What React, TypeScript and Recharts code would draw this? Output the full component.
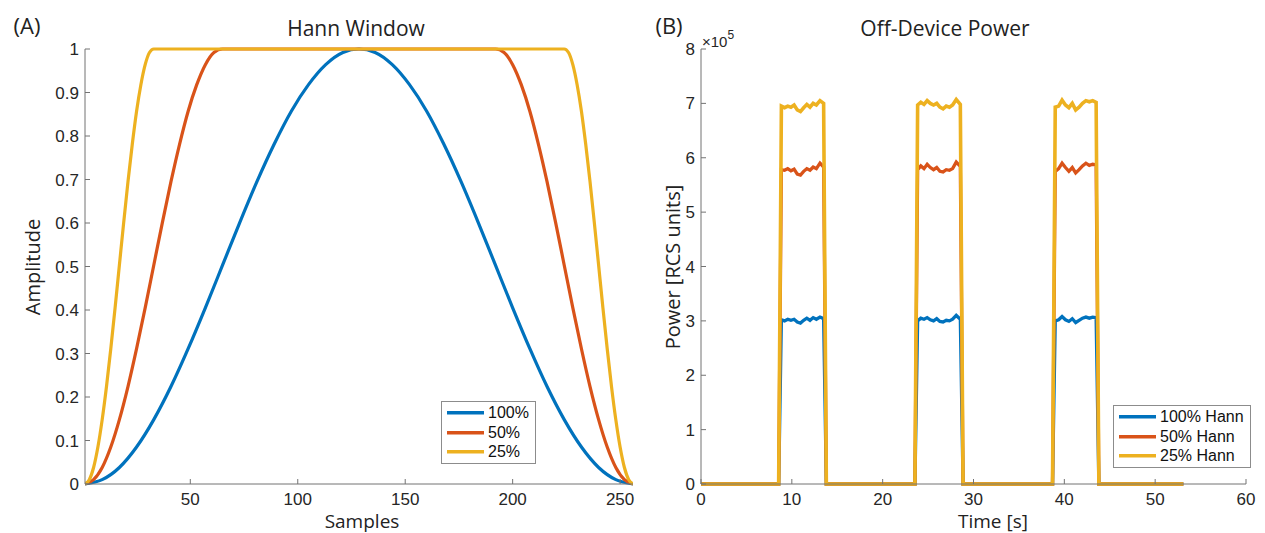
import React from 'react';
import { LineChart, Line, XAxis, YAxis, Legend } from 'recharts';

// ---------- Panel A: Hann / Tukey windows ----------
const hann100X = [1, 9, 17, 25, 33, 41, 49, 57, 65, 73, 81, 89, 97, 105, 113, 121, 128.5, 136, 144, 152, 160, 168, 176, 184, 192, 200, 208, 216, 224, 232, 240, 248, 256];
const hann100Y = [0, 0.010, 0.038, 0.085, 0.148, 0.224, 0.311, 0.405, 0.503, 0.601, 0.695, 0.781, 0.857, 0.918, 0.964, 0.992, 1, 0.992, 0.964, 0.918, 0.857, 0.781, 0.695, 0.601, 0.503, 0.405, 0.311, 0.224, 0.148, 0.085, 0.038, 0.010, 0];

const hann50X = [1, 5, 9, 13, 17, 21, 25, 29, 33, 37, 41, 45, 49, 53, 57, 61, 65, 192, 196, 200, 204, 208, 212, 216, 220, 224, 228, 232, 236, 240, 244, 248, 252, 256];
const hann50Y = [0, 0.010, 0.038, 0.085, 0.148, 0.224, 0.311, 0.405, 0.503, 0.601, 0.695, 0.781, 0.857, 0.918, 0.964, 0.992, 1, 1, 0.992, 0.964, 0.918, 0.857, 0.781, 0.695, 0.601, 0.503, 0.405, 0.311, 0.224, 0.148, 0.085, 0.038, 0.010, 0];

const hann25X = [1, 3, 5, 7, 9, 11, 13, 15, 17, 19, 21, 23, 25, 27, 29, 31, 33, 224, 226, 228, 230, 232, 234, 236, 238, 240, 242, 244, 246, 248, 250, 252, 254, 256];
const hann25Y = [0, 0.010, 0.038, 0.085, 0.148, 0.224, 0.311, 0.405, 0.503, 0.601, 0.695, 0.781, 0.857, 0.918, 0.964, 0.992, 1, 1, 0.992, 0.964, 0.918, 0.857, 0.781, 0.695, 0.601, 0.503, 0.405, 0.311, 0.224, 0.148, 0.085, 0.038, 0.010, 0];

const sampleTicks = [50, 100, 150, 200, 250];
const amplitudeTicks = [0, 0.1, 0.2, 0.3, 0.4, 0.5, 0.6, 0.7, 0.8, 0.9, 1];
const windowLabels = ['100%', '50%', '25%'];

// ---------- Panel B: Off-device power ----------
const timeS = [
  0, 2, 4, 6, 8.55,
  8.85, 9.2, 9.55, 9.9, 10.25, 10.6, 10.95, 11.3, 11.65, 12.0, 12.35, 12.7, 13.1, 13.5,
  13.8, 16, 18, 20, 22, 23.55,
  23.85, 24.2, 24.55, 24.9, 25.25, 25.6, 25.95, 26.3, 26.65, 27.0, 27.35, 27.7, 28.1, 28.55,
  28.85, 31, 33, 35, 37, 38.7,
  39.0, 39.375, 39.75, 40.125, 40.5, 40.875, 41.25, 41.625, 42.0, 42.375, 42.75, 43.125, 43.5,
  43.8, 46, 48, 50, 52, 53.1,
];
const power100 = [
  0, 0, 0, 0, 0,
  302000, 300000, 303000, 301000, 303000, 298000, 296000, 301000, 305000, 301000, 306000, 303000, 307000, 304000,
  0, 0, 0, 0, 0, 0,
  300000, 305000, 303000, 306000, 302000, 300000, 304000, 299000, 298000, 301000, 300000, 303000, 310000, 303000,
  0, 0, 0, 0, 0, 0,
  300000, 302000, 308000, 302000, 299000, 304000, 297000, 301000, 305000, 307000, 305000, 307000, 306000,
  0, 0, 0, 0, 0, 0,
];
const power50 = [
  0, 0, 0, 0, 0,
  578000, 577000, 580000, 576000, 579000, 570000, 568000, 575000, 580000, 577000, 583000, 580000, 590000, 583000,
  0, 0, 0, 0, 0, 0,
  578000, 585000, 580000, 588000, 582000, 578000, 582000, 575000, 574000, 578000, 577000, 580000, 592000, 584000,
  0, 0, 0, 0, 0, 0,
  575000, 580000, 590000, 582000, 575000, 582000, 572000, 578000, 585000, 590000, 586000, 588000, 587000,
  0, 0, 0, 0, 0, 0,
];
const power25 = [
  0, 0, 0, 0, 0,
  695000, 692000, 695000, 693000, 697000, 688000, 685000, 692000, 698000, 693000, 700000, 697000, 705000, 700000,
  0, 0, 0, 0, 0, 0,
  697000, 702000, 698000, 705000, 700000, 697000, 700000, 693000, 690000, 695000, 693000, 697000, 707000, 698000,
  0, 0, 0, 0, 0, 0,
  693000, 695000, 706000, 697000, 692000, 700000, 688000, 693000, 700000, 705000, 703000, 705000, 702000,
  0, 0, 0, 0, 0, 0,
];
const timeTicks = [0, 10, 20, 30, 40, 50, 60];
const powerTicks = [0, 100000, 200000, 300000, 400000, 500000, 600000, 700000, 800000];
const powerLabels = ['100% Hann', '50% Hann', '25% Hann'];

const COLORS = ['#0072BD', '#D95319', '#EDB120'];

const hann100Data = hann100X.map((x, i) => ({ x, y: hann100Y[i] }));
const hann50Data = hann50X.map((x, i) => ({ x, y: hann50Y[i] }));
const hann25Data = hann25X.map((x, i) => ({ x, y: hann25Y[i] }));
const powerData = timeS.map((t, i) => ({ t, p100: power100[i], p50: power50[i], p25: power25[i] }));

const AXIS = '#737373';
const tickStyle = { fontFamily: '"Liberation Sans", Arial, sans-serif', fontSize: 17, fill: '#262626' };
const labelFont = '"Open Sans", "Noto Sans", sans-serif';

const LegendBox = ({ labels, width }: { labels: string[]; width: number }) => (
  <div
    style={{
      border: '1px solid #8c8c8c',
      background: '#fff',
      width,
      padding: '1px 0',
      boxSizing: 'border-box',
    }}
  >
    {labels.map((lab, i) => (
      <div key={lab} style={{ display: 'flex', alignItems: 'center', height: 19.5 }}>
        <svg width={46} height={19.5} style={{ display: 'block' }}>
          <line x1={5} x2={42} y1={9.75} y2={9.75} stroke={COLORS[i]} strokeWidth={3.5} />
        </svg>
        <span
          style={{
            fontFamily: '"Liberation Sans", Arial, sans-serif',
            fontSize: 16,
            color: '#111',
            lineHeight: '19.5px',
            whiteSpace: 'nowrap',
          }}
        >
          {lab}
        </span>
      </div>
    ))}
  </div>
);

const Txt = ({ x, y, size, children, rotate }: any) => (
  <div
    style={{
      position: 'absolute',
      left: x,
      top: y,
      transform: `translate(-50%, -50%)${rotate ? ' rotate(-90deg)' : ''}`,
      fontFamily: labelFont,
      fontSize: size,
      lineHeight: 1,
      color: '#222',
      whiteSpace: 'nowrap',
    }}
  >
    {children}
  </div>
);

export default function App() {
  return (
    <div
      style={{
        position: 'absolute',
        left: 0,
        top: 0,
        width: 1265,
        height: 533,
        background: '#fff',
        overflow: 'hidden',
      }}
    >
      <div style={{ position: 'absolute', left: 0, top: 0 }}>
        <LineChart width={640} height={533} margin={{ top: 49, right: 7, left: 45, bottom: 19 }}>
          <XAxis
            dataKey="x"
            type="number"
            domain={[1, 256]}
            ticks={sampleTicks}
            interval={0}
            allowDataOverflow
            height={30}
            stroke={AXIS}
            tickSize={-5}
            tickMargin={14}
            tick={tickStyle}
          />
          <YAxis
            type="number"
            domain={[0, 1]}
            ticks={amplitudeTicks}
            interval={0}
            width={40}
            stroke={AXIS}
            tickSize={-5}
            tickMargin={11}
            tick={tickStyle}
            tickFormatter={(v: number) => String(v)}
          />
          <Line data={hann100Data} dataKey="y" name="100%" type="monotone" stroke={COLORS[0]} strokeWidth={3.2} dot={false} activeDot={false} isAnimationActive={false} />
          <Line data={hann50Data} dataKey="y" name="50%" type="monotone" stroke={COLORS[1]} strokeWidth={3.2} dot={false} activeDot={false} isAnimationActive={false} />
          <Line data={hann25Data} dataKey="y" name="25%" type="monotone" stroke={COLORS[2]} strokeWidth={3.2} dot={false} activeDot={false} isAnimationActive={false} />
          <Legend
            layout="vertical"
            align="center"
            verticalAlign="middle"
            wrapperStyle={{ left: 441, top: 401, width: 'auto', height: 'auto' }}
            content={() => <LegendBox labels={windowLabels} width={95} />}
          />
        </LineChart>
      </div>

      <div style={{ position: 'absolute', left: 640, top: 0 }}>
        <LineChart width={625} height={533} data={powerData} margin={{ top: 49, right: 19, left: 21, bottom: 19 }}>
          <XAxis
            dataKey="t"
            type="number"
            domain={[0, 60]}
            ticks={timeTicks}
            interval={0}
            height={30}
            stroke={AXIS}
            tickSize={-5}
            tickMargin={14}
            tick={tickStyle}
          />
          <YAxis
            type="number"
            domain={[0, 800000]}
            ticks={powerTicks}
            interval={0}
            width={40}
            stroke={AXIS}
            tickSize={-5}
            tickMargin={11}
            tick={tickStyle}
            tickFormatter={(v: number) => String(v / 100000)}
          />
          <Line dataKey="p100" name="100% Hann" type="linear" stroke={COLORS[0]} strokeWidth={3.3} dot={false} activeDot={false} isAnimationActive={false} />
          <Line dataKey="p50" name="50% Hann" type="linear" stroke={COLORS[1]} strokeWidth={3.3} dot={false} activeDot={false} isAnimationActive={false} />
          <Line dataKey="p25" name="25% Hann" type="linear" stroke={COLORS[2]} strokeWidth={3.6} dot={false} activeDot={false} isAnimationActive={false} />
          <Legend
            layout="vertical"
            align="center"
            verticalAlign="middle"
            wrapperStyle={{ left: 473, top: 405, width: 'auto', height: 'auto' }}
            content={() => <LegendBox labels={powerLabels} width={138} />}
          />
        </LineChart>
      </div>

      <Txt x={27} y={25} size={22}>(A)</Txt>
      <Txt x={356} y={28} size={21}>Hann Window</Txt>
      <Txt x={362} y={521} size={19}>Samples</Txt>
      <Txt x={33} y={267} size={20} rotate>Amplitude</Txt>

      <Txt x={669} y={25} size={22}>(B)</Txt>
      <Txt x={945} y={28} size={21}>Off-Device Power</Txt>
      <Txt x={993} y={521} size={19}>Time [s]</Txt>
      <Txt x={673} y={267} size={20} rotate>Power [RCS units]</Txt>

      <div
        style={{
          position: 'absolute',
          left: 702,
          top: 34,
          fontFamily: '"Liberation Sans", Arial, sans-serif',
          fontSize: 15,
          lineHeight: 1,
          color: '#262626',
          whiteSpace: 'nowrap',
        }}
      >
        ×10<sup style={{ fontSize: 12, verticalAlign: 'top', position: 'relative', top: -5 }}>5</sup>
      </div>
    </div>
  );
}
